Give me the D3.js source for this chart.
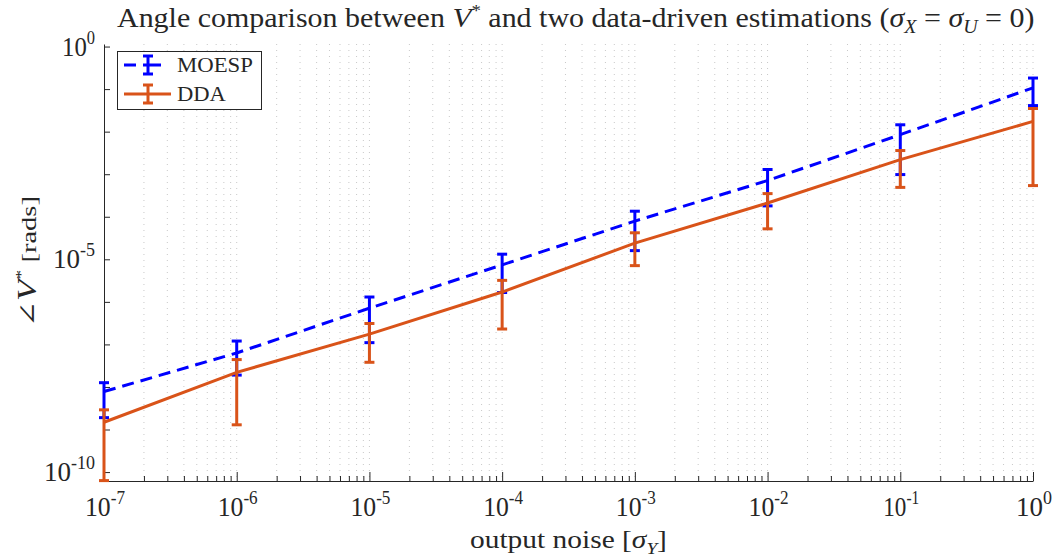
<!DOCTYPE html>
<html>
<head>
<meta charset="utf-8">
<script src="https://cdn.jsdelivr.net/npm/d3@7"></script>
<style>
  body { margin: 0; background: #fff; }
  svg text { font-family: "Liberation Serif", "DejaVu Serif", serif; fill: #262626; }
</style>
</head>
<body>
<svg id="chart" width="1057" height="557"></svg>
<script>
// output noise levels (x)
const noiseLevels = [1e-7, 1e-6, 1e-5, 1e-4, 1e-3, 1e-2, 1e-1, 1e0];

// MOESP: mean angle and error bar ends
const moespMean = [7.8e-9, 6.3e-8, 7.1e-7, 7.4e-6, 7.9e-5, 7.1e-4, 8.5e-3, 1.07e-1];
const moespLow  = [1.9e-9, 1.9e-8, 1.1e-7, 1.66e-6, 1.6e-5, 1.8e-4, 9.8e-4, 4.1e-2];
const moespHigh = [1.26e-8, 1.2e-7, 1.3e-6, 1.32e-5, 1.35e-4, 1.29e-3, 1.45e-2, 1.82e-1];

// DDA: mean angle and error bar ends
const ddaMean = [1.48e-9, 2.2e-8, 1.74e-7, 1.7e-6, 2.4e-5, 2.1e-4, 2.2e-3, 1.74e-2];
const ddaLow  = [6.3e-11, 1.29e-9, 3.8e-8, 2.3e-7, 7.1e-6, 5.2e-5, 4.9e-4, 5.4e-4];
const ddaHigh = [2.9e-9, 4.4e-8, 3.1e-7, 3.2e-6, 4.2e-5, 3.5e-4, 3.6e-3, 3.5e-2];

const xTickExp = [-7, -6, -5, -4, -3, -2, -1, 0];
const yTickExp = [0, -5, -10];

const series = [
  { name: "MOESP", color: "#0000ff", dash: "12,7", mean: moespMean, low: moespLow, high: moespHigh },
  { name: "DDA", color: "#d95319", dash: null, mean: ddaMean, low: ddaLow, high: ddaHigh }
];

const svg = d3.select("#chart");
const pLeft = 104, pRight = 1033, pTop = 44, pBottom = 481;

const x = d3.scaleLog().domain([1e-7, 1]).range([pLeft, pRight]);
const y = d3.scaleLog().domain([Math.pow(10, -10.21), Math.pow(10, 0.06)]).range([pBottom, pTop]);

// stretch a text horizontally (around ax) so that it is w pixels wide, like the wide TeX font
function fitWidth(t, w, ax) {
  const bw = t.node().getBBox().width;
  const k = w / bw;
  t.attr("transform", "translate(" + ax + ",0) scale(" + k + ",1) translate(" + (-ax) + ",0)");
}

svg.append("defs").append("clipPath").attr("id", "clip")
  .append("rect").attr("x", pLeft - 8).attr("y", pTop).attr("width", pRight - pLeft + 16).attr("height", pBottom - pTop + 2);

// dotted vertical grid at every log tick
const gridVals = [];
for (let e = -7; e <= 0; e++) {
  for (let m = 1; m <= 9; m++) {
    const v = m * Math.pow(10, e);
    if (v <= 1.0000001) gridVals.push(v);
  }
}
svg.append("g").selectAll("line").data(gridVals.filter(v => v > 1.0001e-7)).join("line")
  .attr("x1", d => x(d)).attr("x2", d => x(d))
  .attr("y1", pTop).attr("y2", pBottom)
  .attr("stroke", "#c8c8c8").attr("stroke-width", 1)
  .attr("stroke-dasharray", "1,5");

// axes
const xAxis = d3.axisBottom(x).tickValues(gridVals).tickSize(0).tickFormat("");
const gx = svg.append("g").attr("transform", "translate(0," + pBottom + ")").call(xAxis);
gx.select(".domain").attr("stroke", "#262626");
gx.selectAll(".tick line").remove();
gx.selectAll(".tick").append("line")
  .attr("y2", d => Math.abs(Math.log10(d) - Math.round(Math.log10(d))) < 1e-6 ? -9 : -5)
  .attr("stroke", "#262626");

const yAxis = d3.axisLeft(y).tickValues(d3.range(-10, 1).map(e => Math.pow(10, e))).tickSize(0).tickFormat("");
const gy = svg.append("g").attr("transform", "translate(" + pLeft + ",0)").call(yAxis);
gy.select(".domain").attr("stroke", "#262626");
gy.selectAll(".tick line").remove();
gy.selectAll(".tick").append("line").attr("x2", 6).attr("stroke", "#262626");

// tick labels with superscripts
function powLabel(sel, e) {
  sel.append("tspan").text("10");
  sel.append("tspan").attr("dy", -12).attr("font-size", 18).text(e);
}
xTickExp.forEach(e => {
  const cx = x(Math.pow(10, e)) + 1;
  const t = svg.append("text")
    .attr("x", cx).attr("y", 516)
    .attr("text-anchor", "middle").attr("font-size", 27);
  powLabel(t, e);
  fitWidth(t, e <= -2 ? 40 : 36, cx);
});
yTickExp.forEach(e => {
  const t = svg.append("text")
    .attr("x", 95).attr("y", y(Math.pow(10, e)) + 9)
    .attr("text-anchor", "end").attr("font-size", 27);
  powLabel(t, e);
  fitWidth(t, e === 0 ? 33 : (e === -5 ? 42 : 51), 95);
});

// series
const plot = svg.append("g").attr("clip-path", "url(#clip)");
series.forEach(s => {
  const pts = noiseLevels.map((v, i) => ({ x: v, m: s.mean[i], lo: s.low[i], hi: s.high[i] }));
  plot.append("path").datum(pts)
    .attr("d", d3.line().x(d => x(d.x)).y(d => y(d.m)))
    .attr("fill", "none").attr("stroke", s.color).attr("stroke-width", 3)
    .attr("stroke-dasharray", s.dash);
  const eb = plot.append("g").selectAll("g").data(pts).join("g");
  eb.append("line")
    .attr("x1", d => x(d.x)).attr("x2", d => x(d.x))
    .attr("y1", d => y(d.lo)).attr("y2", d => y(d.hi))
    .attr("stroke", s.color).attr("stroke-width", 3);
  ["lo", "hi"].forEach(k => {
    eb.append("line")
      .attr("x1", d => x(d.x) - 5).attr("x2", d => x(d.x) + 5)
      .attr("y1", d => y(d[k])).attr("y2", d => y(d[k]))
      .attr("stroke", s.color).attr("stroke-width", 3);
  });
});

// legend
const lg = svg.append("g");
lg.append("rect").attr("x", 117.5).attr("y", 51.5).attr("width", 144).attr("height", 58)
  .attr("fill", "#fff").attr("stroke", "#262626").attr("stroke-width", 1);
series.forEach((s, i) => {
  const ly = 65 + i * 29;
  lg.append("line").attr("x1", 124).attr("x2", 171).attr("y1", ly).attr("y2", ly)
    .attr("stroke", s.color).attr("stroke-width", 3).attr("stroke-dasharray", s.dash ? "12,7,18,30" : null);
  lg.append("line").attr("x1", 148).attr("x2", 148).attr("y1", ly - 9).attr("y2", ly + 9)
    .attr("stroke", s.color).attr("stroke-width", 3);
  [ly - 9, ly + 9].forEach(cy => {
    lg.append("line").attr("x1", 143).attr("x2", 153).attr("y1", cy).attr("y2", cy)
      .attr("stroke", s.color).attr("stroke-width", 3);
  });
  const lt = lg.append("text").attr("x", 177).attr("y", ly + 7).attr("font-size", 22).text(s.name);
  fitWidth(lt, i === 0 ? 76 : 49, 177);
});

// title
const title = svg.append("text").attr("x", 117).attr("y", 27).attr("font-size", 27);
title.append("tspan").text("Angle comparison between ");
title.append("tspan").attr("font-style", "italic").attr("font-size", 28).text("V");
title.append("tspan").attr("dy", -11).attr("font-size", 17).text("*");
title.append("tspan").attr("dy", 11).text(" and two data-driven estimations (");
title.append("tspan").attr("font-style", "italic").text("σ");
title.append("tspan").attr("dy", 6).attr("font-size", 18).attr("font-style", "italic").text("X");
title.append("tspan").attr("dy", -6).text(" = ");
title.append("tspan").attr("font-style", "italic").text("σ");
title.append("tspan").attr("dy", 6).attr("font-size", 18).attr("font-style", "italic").text("U");
title.append("tspan").attr("dy", -6).text(" = 0)");
fitWidth(title, 918, 117);

// x label
const xl = svg.append("text").attr("x", 470).attr("y", 548).attr("font-size", 26);
xl.append("tspan").text("output noise [");
xl.append("tspan").attr("font-style", "italic").text("σ");
xl.append("tspan").attr("dy", 6).attr("font-size", 17).attr("font-style", "italic").text("Y");
xl.append("tspan").attr("dy", -6).text("]");
fitWidth(xl, 197, 470);

// y label (rotated group, text stretched along its own length)
const ylg = svg.append("g").attr("transform", "translate(36,327) rotate(-90)");
const yl = ylg.append("text").attr("x", 0).attr("y", 0).attr("font-size", 22);
yl.append("tspan").attr("font-size", 24).text("∠");
yl.append("tspan").attr("font-style", "italic").attr("font-size", 27).text("V");
yl.append("tspan").attr("dy", -10).attr("font-size", 15).text("*");
yl.append("tspan").attr("dy", 10).text(" [rads]");
fitWidth(yl, 131, 0);
</script>
</body>
</html>
